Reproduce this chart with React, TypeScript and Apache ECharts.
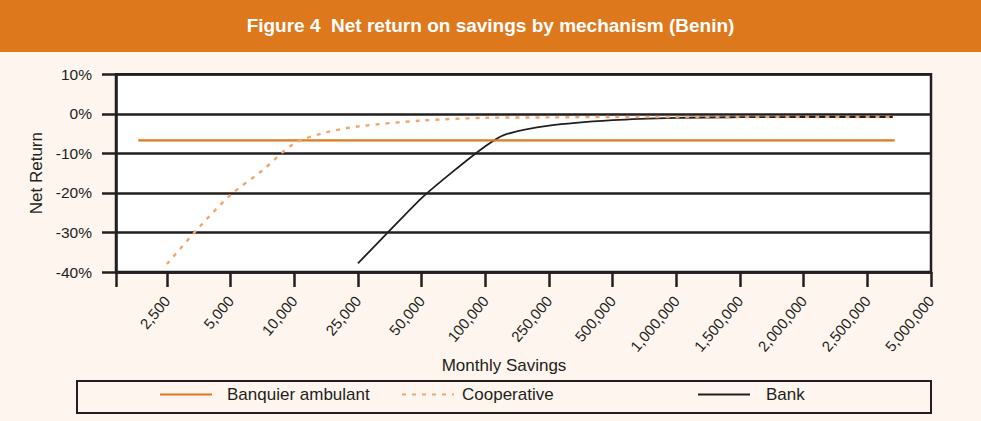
import React, { useEffect, useRef } from "react";
import * as echarts from "echarts";

// ---- Data ----
const TITLE = "Figure 4  Net return on savings by mechanism (Benin)";
const X_NAME = "Monthly Savings";
const Y_NAME = "Net Return";

// Category labels of the x axis (positions 1..13 on the axis)
const xLabels = [
  "2,500", "5,000", "10,000", "25,000", "50,000", "100,000", "250,000",
  "500,000", "1,000,000", "1,500,000", "2,000,000", "2,500,000", "5,000,000",
];
const xLabelPos = xLabels.map((_, i) => i + 1);

// Series (x = position along the category scale, y = net return in %)
const banquierX = [0.55, 12.43];
const banquierY = [-6.7, -6.7];

const coopX = [1, 1.5, 2, 2.5, 3, 3.5, 4, 5, 6, 7, 8, 9, 10, 11, 12.4];
const coopY = [-38, -28.8, -20.5, -14.3, -7.5, -4.7, -3.2, -1.7, -1.0, -0.9, -0.8, -0.8, -0.8, -0.8, -0.8];

const bankX = [4, 4.5, 5, 5.5, 6, 6.3, 7, 8, 9, 10, 11, 12.4];
const bankY = [-37.8, -29.5, -21.3, -14.5, -8.2, -5.3, -3.0, -1.6, -1.0, -0.85, -0.8, -0.8];

const SERIES_NAMES = ["Banquier ambulant", "Cooperative", "Bank"];

const zip = (xs: number[], ys: number[]) => xs.map((x, i) => [x, ys[i]]);

const FONT = "'Liberation Sans', Arial, Helvetica, sans-serif";
const INK = "#231F20";
const ORANGE = "#DE781D";
const LIGHT_ORANGE = "#F2A66E";
const CREAM = "#FDF5EE";

export default function App() {
  const ref = useRef<HTMLDivElement>(null);

  useEffect(() => {
    if (!ref.current) return;
    const chart = echarts.init(ref.current, null, { renderer: "svg" });

    const legendBase = {
      itemWidth: 52,
      itemHeight: 16,
      top: 386,
      padding: 0,
      textStyle: { fontSize: 17, color: INK, fontFamily: FONT },
      itemStyle: { color: "transparent", borderColor: "transparent", borderWidth: 0, opacity: 0 },
      lineStyle: { width: 2 },
      selectedMode: false,
    };

    chart.setOption({
      animation: false,
      backgroundColor: CREAM,
      textStyle: { fontFamily: FONT },
      title: {
        text: TITLE,
        left: "center",
        top: 16,
        padding: 0,
        textStyle: { color: "#FFFFFF", fontSize: 19, fontWeight: "bold", fontFamily: FONT },
      },
      graphic: [
        {
          type: "rect",
          z: -10,
          shape: { x: 0, y: 0, width: 981, height: 52 },
          style: { fill: ORANGE },
        },
        {
          type: "rect",
          shape: { x: 77, y: 381, width: 854, height: 32 },
          style: { fill: "none", stroke: INK, lineWidth: 2 },
        },
      ],
      legend: [
        { ...legendBase, left: 159, data: [SERIES_NAMES[0]], textStyle: { ...legendBase.textStyle, padding: [0, 0, 0, 10] } },
        { ...legendBase, left: 401, data: [SERIES_NAMES[1]], textStyle: { ...legendBase.textStyle, padding: [0, 0, 0, 3] } },
        { ...legendBase, left: 697, data: [SERIES_NAMES[2]], textStyle: { ...legendBase.textStyle, padding: [0, 0, 0, 11] } },
      ],
      grid: {
        left: 116,
        right: 50,
        top: 74.3,
        bottom: 149,
        containLabel: false,
        show: true,
        backgroundColor: "#FFFFFF",
        borderColor: INK,
        borderWidth: 2.5,
      },
      xAxis: {
        type: "value",
        min: 0.2,
        max: 13,
        name: X_NAME,
        nameLocation: "middle",
        nameGap: 83,
        nameTextStyle: { fontSize: 17, color: INK, fontFamily: FONT, padding: [0, 39, 0, 0] },
        axisLine: { show: true, onZero: false, lineStyle: { color: INK, width: 2.5 } },
        axisTick: {
          show: true,
          inside: false,
          length: 15,
          customValues: [0.2, ...xLabelPos],
          lineStyle: { color: INK, width: 2.5 },
        },
        axisLabel: {
          customValues: xLabelPos,
          rotate: 50,
          margin: 26,
          fontSize: 15,
          color: INK,
          fontFamily: FONT,
          formatter: (v: number) => xLabels[Math.round(v) - 1] ?? "",
        },
        splitLine: { show: false },
      },
      yAxis: {
        type: "value",
        min: -40,
        max: 10,
        interval: 10,
        name: Y_NAME,
        nameLocation: "middle",
        nameGap: 71,
        nameTextStyle: { fontSize: 17, color: INK, fontFamily: FONT },
        axisLine: { show: true, onZero: false, lineStyle: { color: INK, width: 2.5 } },
        axisTick: { show: true, inside: false, length: 14, lineStyle: { color: INK, width: 2.5 } },
        axisLabel: {
          margin: 24,
          fontSize: 15.5,
          color: INK,
          fontFamily: FONT,
          formatter: "{value}%",
        },
        splitLine: { show: true, lineStyle: { color: INK, width: 2.5 } },
      },
      series: [
        {
          name: SERIES_NAMES[0],
          type: "line",
          symbol: "none",
          z: 3,
          data: zip(banquierX, banquierY),
          lineStyle: { color: ORANGE, width: 2.2 },
          itemStyle: { color: ORANGE },
        },
        {
          name: SERIES_NAMES[1],
          type: "line",
          symbol: "none",
          smooth: 0.3,
          z: 4,
          data: zip(coopX, coopY),
          lineStyle: { color: LIGHT_ORANGE, width: 2.4, type: [4, 6] },
          itemStyle: { color: LIGHT_ORANGE },
        },
        {
          name: SERIES_NAMES[2],
          type: "line",
          symbol: "none",
          smooth: 0.25,
          z: 2,
          data: zip(bankX, bankY),
          lineStyle: { color: INK, width: 1.8 },
          itemStyle: { color: INK },
        },
      ],
    });

    return () => chart.dispose();
  }, []);

  return (
    <div
      ref={ref}
      style={{ position: "absolute", left: 0, top: 0, width: 981, height: 421, background: CREAM }}
    />
  );
}
